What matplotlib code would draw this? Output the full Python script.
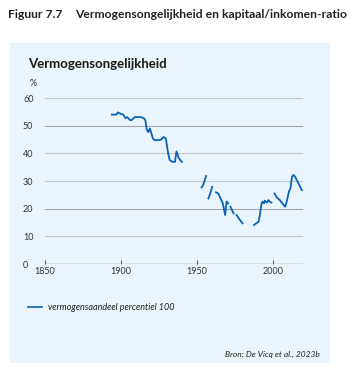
import numpy as np
import matplotlib.pyplot as plt

# vermogensaandeel top 1% (percentiel 100), gaten = geen data
jaar = [1894, 1897, 1898, 1900, 1901.5, 1903, 1904, 1906, 1907, 1909, 1913, 1915, 1916,
        1917, 1918, 1919, 1920, 1921, 1922, 1926, 1928, 1929.5, 1931, 1932, 1934, 1935.5,
        1936.5, 1938, 1940, 1941,
        1953, 1954, 1956, 1956.7,
        1957.5, 1959, 1960, 1961,
        1962.5, 1964, 1966, 1967, 1968.5, 1969.5, 1970.5, 1971.2,
        1972, 1974, 1975,
        1976, 1978, 1980, 1985,
        1987.5, 1989, 1990.5, 1991.5, 1992.5, 1993, 1994, 1994.5, 1996, 1997, 1998, 1999, 2000,
        2001, 2002.5, 2004.5, 2007, 2008, 2009, 2010.5, 2011.5, 2012.5, 2013.5, 2014.5,
        2016.5, 2019]
aandeel = [54.0, 54.0, 54.8, 54.2, 54.0, 52.7, 53.1, 52.0, 52.0, 53.1, 53.1, 52.7, 52.0,
           48.4, 47.7, 49.0, 47.2, 45.4, 44.8, 44.8, 45.9, 45.4, 40.0, 37.6, 36.9, 36.9,
           40.7, 38.3, 36.9, np.nan,
           27.7, 28.5, 31.8, np.nan,
           23.7, 26.0, 27.9, np.nan,
           25.9, 25.5, 23.1, 21.9, 17.7, 22.6, 21.9, np.nan,
           20.7, 18.3, np.nan,
           17.7, 16.1, 14.7, np.nan,
           14.1, 14.7, 15.3, 18.3, 21.9, 22.5, 21.9, 22.9, 22.2, 23.1, 22.5, 22.2, np.nan,
           25.5, 24.1, 23.1, 21.3, 20.7, 22.5, 26.2, 27.4, 31.6, 32.2, 31.6,
           29.4, 26.7]

yticks = [0, 10, 20, 30, 40, 50, 60]
xticks = [1850, 1900, 1950, 2000]

plt.rcParams['font.family'] = ['Lato', 'DejaVu Sans']

W, H = 356, 379
fig = plt.figure(figsize=(W / 100, H / 100), dpi=100)
fig.patch.set_facecolor('white')

# lichtblauw paneel
fig.patches.append(plt.Rectangle((10 / W, 1 - 363 / H), 320 / W, 320 / H,
                                 transform=fig.transFigure, facecolor='#eaf4fd',
                                 edgecolor='none', zorder=-5))

fig.text(8 / W, 1 - 15 / H, 'Figuur 7.7', fontsize=8.7, color='#222222',
         va='center', ha='left', fontweight='bold')
fig.text(75 / W, 1 - 15 / H, 'Vermogensongelijkheid en kapitaal/inkomen-ratio',
         fontsize=8.7, color='#222222', va='center', ha='left', fontweight='bold')
fig.text(28 / W, 1 - 64 / H, 'Vermogensongelijkheid', fontsize=9.5, color='#1a1a1a',
         va='center', ha='left', fontweight='bold')
fig.text(30 / W, 1 - 83 / H, '%', fontsize=6.5, color='#333333', va='center', ha='left')

ax = fig.add_axes([45 / W, 1 - 264 / H, 258.4 / W, 166 / H])
ax.set_facecolor('none')
ax.set_xlim(1850, 2020)
ax.set_ylim(0, 60)

for v in yticks[1:]:
    c = '#a4a8ab' if v in (20, 50) else '#c4c8cb'
    ax.axhline(v, color=c, lw=0.8, zorder=1)
ax.axhline(0, color='#555555', lw=0.9, zorder=2)

ax.plot(jaar, aandeel, color='#0b63b6', lw=1.3, zorder=3, solid_joinstyle='round')

for s in ax.spines.values():
    s.set_visible(False)
ax.set_xticks(xticks)
ax.set_yticks(yticks)
ax.tick_params(axis='x', direction='in', length=3, width=0.7, color='#555555',
               labelsize=6.5, labelcolor='#333333', pad=2)
ax.tick_params(axis='y', length=0, labelsize=6.5, labelcolor='#333333', pad=5)
for lab in ax.get_yticklabels():
    lab.set_horizontalalignment('left')
    lab.set_x(-15 / 258.4)

# legenda
fig.add_artist(plt.Line2D([28 / W, 42 / W], [1 - 307 / H, 1 - 307 / H],
                          transform=fig.transFigure, color='#0b63b6', lw=1.2))
fig.text(48 / W, 1 - 307 / H, 'vermogensaandeel percentiel 100', fontsize=6.5,
         style='italic', color='#222222', va='center', ha='left')
fig.text(320 / W, 1 - 354 / H, 'Bron: De Vicq et al., 2023b', fontsize=6,
         style='italic', color='#222222', va='center', ha='right')

fig.savefig('out.png', dpi=100)
